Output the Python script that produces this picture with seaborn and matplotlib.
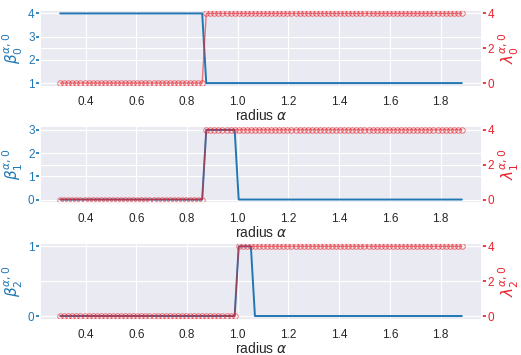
import numpy as np
import matplotlib
matplotlib.use("Agg")
import matplotlib.pyplot as plt
import seaborn as sns
import pandas as pd

# radius values (100 samples, step 0.016 from 0.3)
radius = np.round(0.3 + 0.016 * np.arange(100), 3)

# Betti numbers per dimension
beta0 = [4] * 36 + [1] * 64
beta1 = [0] * 36 + [3] * 8 + [0] * 56
beta2 = [0] * 44 + [1] * 4 + [0] * 52
# lambda values
lam0 = [0] * 36 + [4] * 64
lam1 = [0] * 36 + [4] * 64
lam2 = [0] * 44 + [4] * 56

betas = [beta0, beta1, beta2]
lams = [lam0, lam1, lam2]
left_ticks = [[1, 2, 3, 4], [0, 1, 2, 3], [0, 1]]
right_ticks = [0, 2, 4]
xticks = [0.4, 0.6, 0.8, 1.0, 1.2, 1.4, 1.6, 1.8]

sns.set_theme(style="darkgrid", rc={'grid.linewidth': 0.8})
plt.rcParams['font.family'] = ['Liberation Sans', 'DejaVu Sans']

blue = '#1f77b4'
red = '#e8232c'

fig, axes = plt.subplots(3, 1, figsize=(5.21, 3.55), dpi=100)
fig.subplots_adjust(left=0.077, right=0.925, top=0.972, bottom=0.1, hspace=0.52)

for i, ax in enumerate(axes):
    df = pd.DataFrame({'radius': radius, 'beta': betas[i], 'lam': lams[i]})
    ax3 = ax.twinx()   # background + grid of the right scale
    ax2 = ax.twinx()   # red series on top
    ax3.set_zorder(0)
    ax.set_zorder(1)
    ax2.set_zorder(2)
    ax3.patch.set_visible(True)
    ax3.patch.set_facecolor('#EAEAF2')
    ax.patch.set_visible(False)
    ax2.patch.set_visible(False)

    sns.lineplot(data=df, x='radius', y='beta', ax=ax, color=blue, linewidth=1.4)
    ax.set_yticks(left_ticks[i])
    ax.tick_params(axis='y', colors=blue, labelsize=8.5, length=3, pad=1)
    ax.tick_params(axis='x', labelsize=8.5, pad=1)
    ax.set_ylabel(r'$\beta_{%d}^{\alpha,0}$' % i, color=blue, fontsize=11, labelpad=2)
    ax.set_xlabel(r'radius $\alpha$', fontsize=10, labelpad=0)
    ax.set_xticks(xticks)

    sns.lineplot(data=df, x='radius', y='lam', ax=ax2, color=red, linewidth=1.0,
                 alpha=0.6, marker='o', markersize=4, markerfacecolor='none',
                 markeredgecolor=red, markeredgewidth=0.7)
    ax2.set_yticks(right_ticks)
    ax2.grid(False)
    ax2.tick_params(axis='y', colors=red, labelsize=8.5, length=3, pad=1)
    ax2.set_ylabel(r'$\lambda_{%d}^{\alpha,0}$' % i, color=red, fontsize=11, labelpad=2)
    ax2.set_xlabel('')

    ax3.set_ylim(ax2.get_ylim())
    ax3.set_yticks(right_ticks)
    ax3.tick_params(axis='y', right=False, labelright=False)
    ax3.grid(True, axis='y')
    ax3.grid(False, axis='x')

fig.savefig('out.png', dpi=100)
